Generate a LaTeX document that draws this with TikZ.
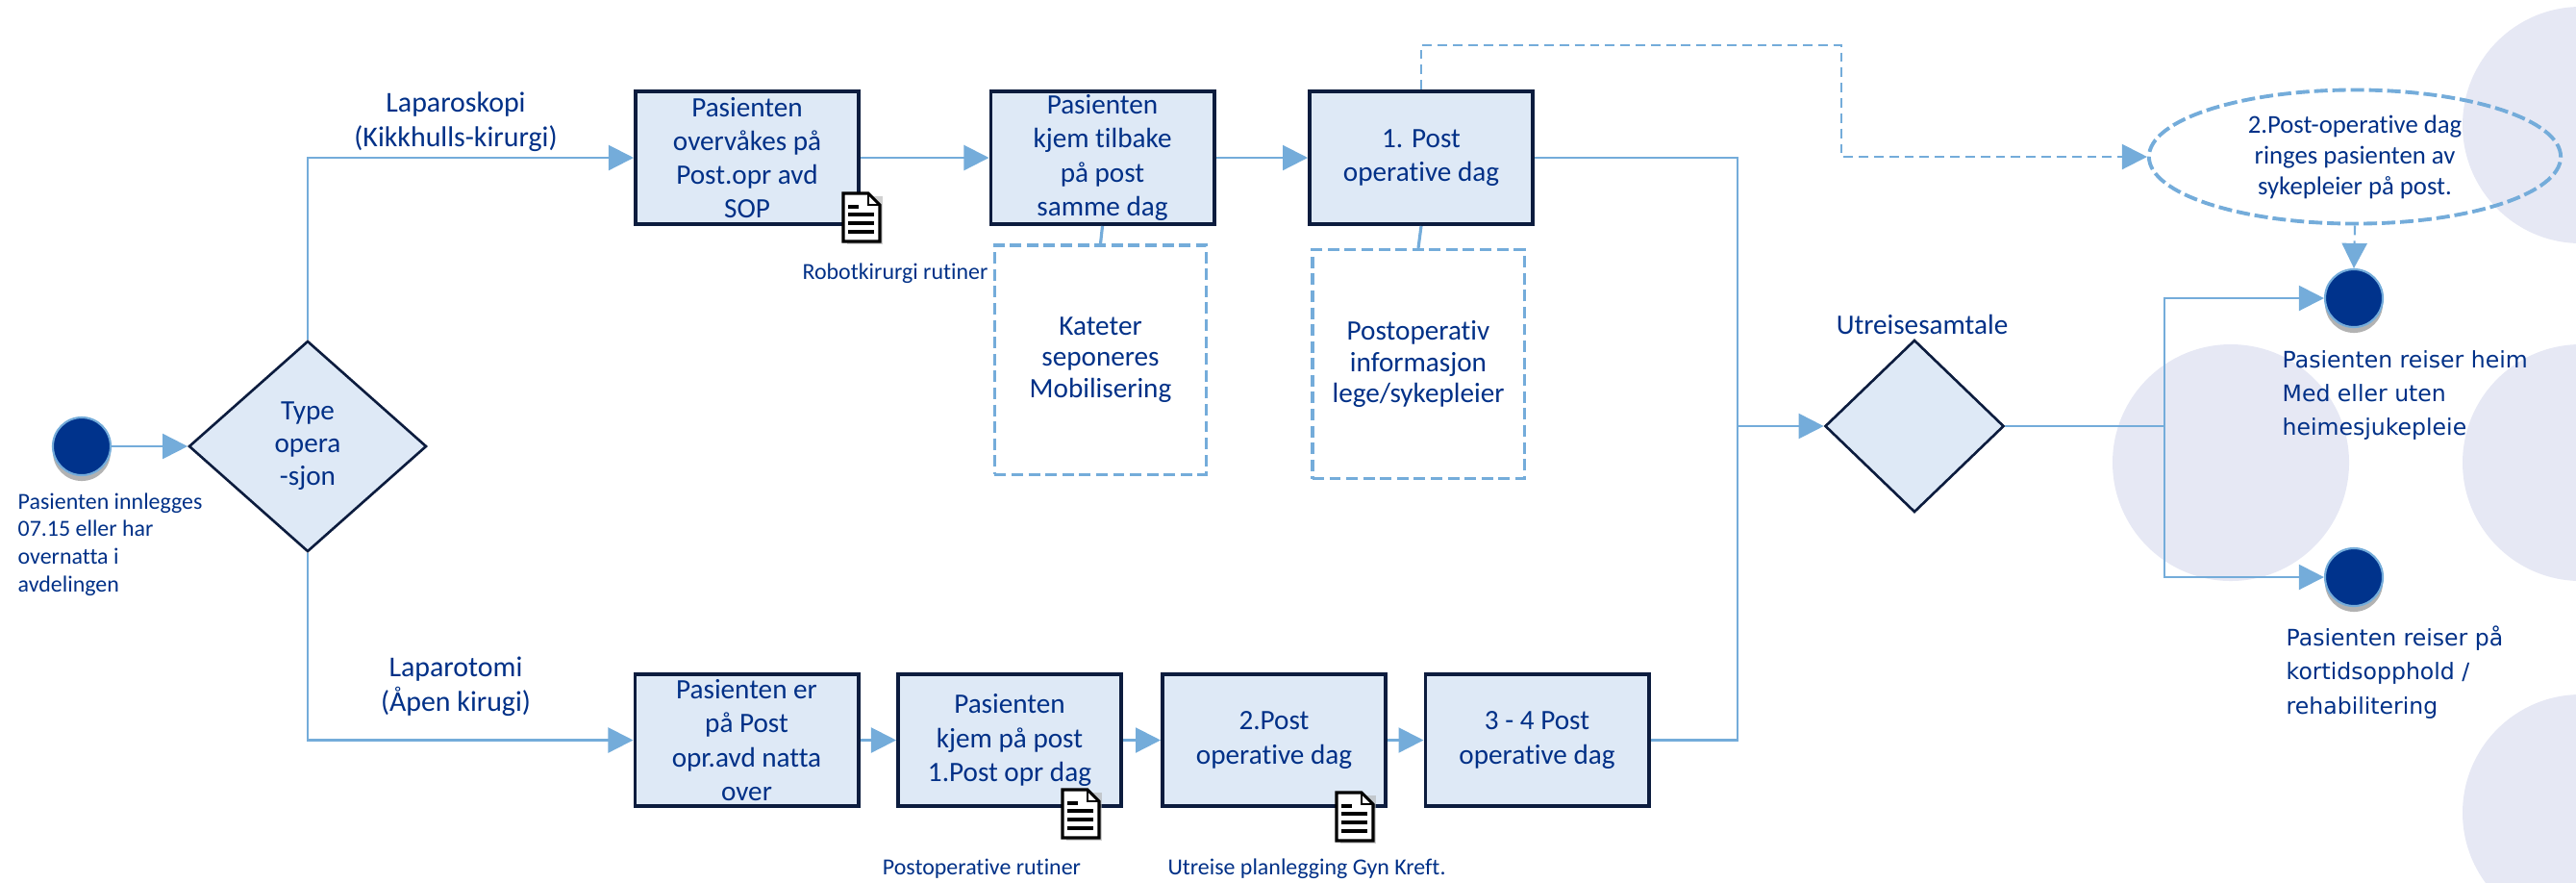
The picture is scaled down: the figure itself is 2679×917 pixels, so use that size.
\documentclass[tikz,border=0pt]{standalone}
\usepackage{fontspec}
\setmainfont{Carlito}[Ligatures=NoCommon]
\newfontfamily\widefont{DejaVu Sans}
\usetikzlibrary{arrows.meta,shapes.geometric,shadows}

\definecolor{navy}{RGB}{12,28,62}
\definecolor{textblue}{RGB}{0,48,135}
\definecolor{flowblue}{RGB}{116,172,218}
\definecolor{boxfill}{RGB}{222,233,246}
\definecolor{dotblue}{RGB}{0,51,140}
\definecolor{bgcircle}{RGB}{230,232,244}

\tikzset{
  stepbox/.style={draw=navy, line width=1.1pt, fill=boxfill, minimum width=2.32cm,
    minimum height=1.38cm, inner sep=0pt, align=center, text=textblue,
    font={\fontsize{8.3}{10}\selectfont}},
  notebox/.style={draw=flowblue, line width=0.9pt, dash pattern=on 3.4pt off 1.6pt,
    minimum width=2.2cm, minimum height=2.38cm, inner sep=0pt, align=center,
    text=textblue, font={\fontsize{8.3}{9.3}\selectfont}},
  choice/.style={diamond, draw=navy, line width=0.75pt, fill=boxfill, inner sep=0pt,
    align=center, text=textblue, font={\fontsize{8.3}{9.7}\selectfont}},
  endpoint/.style={circle, fill=dotblue, draw=flowblue, line width=0.6pt,
    minimum size=0.6cm, inner sep=0pt,
    drop shadow={shadow xshift=0pt, shadow yshift=-0.06cm, opacity=0.3, fill=black}},
  smalltext/.style={text=textblue, inner sep=0pt, align=center,
    font={\fontsize{6.8}{8.2}\selectfont}},
  midtext/.style={text=textblue, inner sep=0pt, align=center,
    font={\fontsize{8.5}{10.3}\selectfont}},
  sidetext/.style={text=textblue, inner sep=0pt, align=left,
    font={\widefont\fontsize{6.7}{10}\selectfont}},
  flowarrow/.style={draw=flowblue, line width=0.6pt, -{Triangle[length=0.26cm,width=0.26cm]}},
  flowline/.style={draw=flowblue, line width=0.6pt},
  dashflow/.style={draw=flowblue, line width=0.6pt, dash pattern=on 2.8pt off 1.7pt,
    -{Triangle[length=0.26cm,width=0.26cm]}},
  docpic/.pic={
    \fill[black!30, opacity=0.6] (-15,-22) rectangle (22,28);
    \draw[black, line width=0.9pt, fill=white] (-19,-25) -- (7,-25) -- (19,-13) -- (19,25) -- (-19,25) -- cycle;
    \draw[black, line width=0.6pt] (7,-25) -- (7,-13) -- (19,-13);
    \draw[black, line width=1.3pt] (-14,-11) -- (-3,-11);
    \foreach \ly in {-3,6,15} \draw[black, line width=1.3pt] (-14,\ly) -- (13,\ly);
  }
}

\begin{document}
\begin{tikzpicture}[x=0.01cm, y=-0.01cm]
    \useasboundingbox (0,0) rectangle (2679,917);

    % Background circles
    \begin{scope}
        \clip (0,0) rectangle (2679,917);
        \fill[bgcircle] (2320,481) circle (123);
        \fill[bgcircle] (2684,130) circle (123);
        \fill[bgcircle] (2684,481) circle (123);
        \fill[bgcircle] (2684,845) circle (123);
    \end{scope}

    % Draw nodes
    \node[endpoint] (start) at (85,464) {};
    \node[smalltext, align=left, anchor=west] (startlbl) at (18,566)
        {Pasienten innlegges\\07.15 eller har\\overnatta i\\avdelingen};
    \node[choice, minimum width=2.47cm, minimum height=2.19cm] (type) at (320,464) {Type\\opera\\-sjon};

    \node[midtext] (lapsk) at (474,127) {Laparoskopi\\(Kikkhulls-kirurgi)};
    \node[midtext] (lapto) at (474,714) {Laparotomi\\(Åpen kirugi)};

    % Upper row
    \node[stepbox] (sop) at (777,164) {Pasienten\\overvåkes på\\Post.opr avd\\SOP};
    \node[stepbox] (back) at (1146.5,164) {Pasienten\\kjem tilbake\\på post\\samme dag};
    \node[stepbox] (pod1) at (1478,164) {1. Post\\operative dag};
    \pic at (896,226) {docpic};
    \node[smalltext] (robot) at (931,284) {Robotkirurgi rutiner};
    \node[notebox] (kateter) at (1144.5,374) {Kateter\\seponeres\\Mobilisering};
    \node[notebox] (info) at (1475,378.5) {Postoperativ\\informasjon\\lege/sykepleier};

    % Lower row
    \node[stepbox, minimum height=1.37cm] (night) at (776.5,769.5) {Pasienten er\\på Post\\opr.avd natta\\over};
    \node[stepbox, minimum height=1.37cm] (ward) at (1050,769.5) {Pasienten\\kjem på post\\1.Post opr dag};
    \node[stepbox, minimum height=1.37cm] (pod2) at (1325,769.5) {2.Post\\operative dag};
    \node[stepbox, minimum height=1.37cm] (pod34) at (1598.5,769.5) {3 - 4 Post\\operative dag};
    \pic at (1124,846) {docpic};
    \pic at (1409,849) {docpic};
    \node[smalltext] (postrut) at (1021,903) {Postoperative rutiner};
    \node[smalltext] (plan) at (1359,903) {Utreise planlegging Gyn Kreft.};

    % Discharge
    \node[choice, minimum width=1.86cm, minimum height=1.79cm] (talk) at (1991,443) {};
    \node[midtext, font={\fontsize{8.3}{10}\selectfont}] (talklbl) at (1999,337) {Utreisesamtale};
    \node[ellipse, draw=flowblue, line width=1.1pt, dash pattern=on 4pt off 1.4pt,
        minimum width=4.28cm, minimum height=1.39cm, inner sep=0pt, align=center,
        text=textblue, font={\fontsize{7.6}{9.1}\selectfont}] (call) at (2449,163)
        {2.Post-operative dag\\ringes pasienten av\\sykepleier på post.};
    \node[endpoint] (home) at (2448,310) {};
    \node[endpoint] (short) at (2448,600) {};
    \node[sidetext, anchor=west] (homelbl) at (2373,411)
        {Pasienten reiser heim\\Med eller uten\\heimesjukepleie};
    \node[sidetext, anchor=west] (shortlbl) at (2377,699)
        {Pasienten reiser på\\kortidsopphold /\\rehabilitering};

    \coordinate (join) at (1807,443);
    \coordinate (split) at (2251,443);
    \coordinate (dashbend) at (1915,47);

    % Draw edges
    \draw[flowarrow] (start) -- (type.west);
    \draw[flowarrow] (type.north) |- (sop.west);
    \draw[flowarrow] (type.south) |- (night.west);
    \draw[flowarrow] (sop) -- (back);
    \draw[flowarrow] (back) -- (pod1);
    \draw[flowarrow] (night) -- (ward);
    \draw[flowarrow] (ward) -- (pod2);
    \draw[flowarrow] (pod2) -- (pod34);
    \draw[flowline, line width=0.9pt] (back.south) -- (kateter.north);
    \draw[flowline, line width=0.9pt] (pod1.south) -- (info.north);
    \draw[flowline] (pod1.east) -| (join);
    \draw[flowline] (pod34.east) -| (join);
    \draw[flowarrow] (join) -- (talk.west);
    \draw[flowline] (talk.east) -- (split);
    \draw[flowarrow] (split) |- (home.west);
    \draw[flowarrow] (split) |- (short.west);
    \draw[dashflow] (pod1.north) |- (dashbend) |- (call.west);
    \draw[dashflow] (call.south) -- (home.north);
\end{tikzpicture}
\end{document}
